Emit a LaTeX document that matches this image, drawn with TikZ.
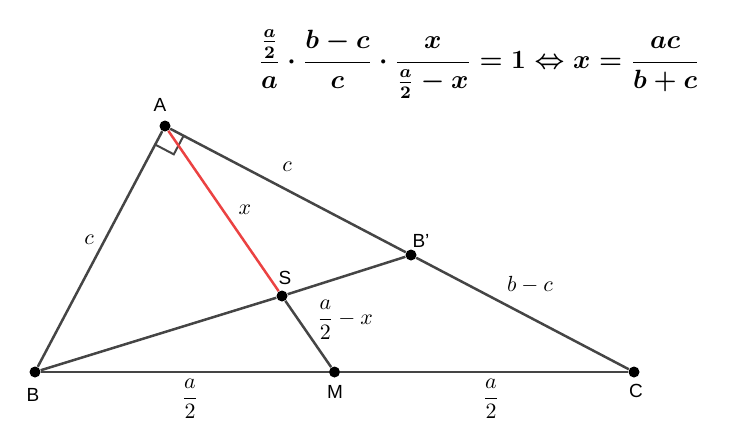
\documentclass[tikz,border=0pt]{standalone}
\usepackage{amsmath}
\usepackage{graphicx}
\usepackage{fontspec}
\setsansfont{Liberation Sans}
\usetikzlibrary{calc}

\newcommand{\ratioeq}{\ensuremath{\displaystyle \frac{\frac{a}{2}}{a}\cdot\frac{b-c}{c}\cdot\frac{x}{\frac{a}{2}-x}=1\Leftrightarrow x=\frac{ac}{b+c}}}

\begin{document}
\begin{tikzpicture}[x=0.5pt,y=-0.5pt,
  pt/.style={circle,fill=black,inner sep=0pt,minimum size=5.5pt},
  side/.style={draw=black!73,line width=1.25pt},
  ptname/.style={font=\sffamily\fontsize{9.5}{11}\selectfont},
  len/.style={font=\fontsize{11}{13}\selectfont}]
  \useasboundingbox (0,0) rectangle (743,440);
  \node[pt] (A) at (165,126) {};
  \node[pt] (B) at (35,372) {};
  \node[pt] (C) at (634,372) {};
  \node[pt] (M) at (334.5,372) {};
  \node[pt] (Bp) at (411,255) {};
  \node[pt] (S) at (282,296) {};
  \node[ptname] (nA) at (160,105) {A};
  \node[ptname] (nB) at (33,395) {B};
  \node[ptname] (nC) at (636,391) {C};
  \node[ptname] (nM) at (335,392) {M};
  \node[ptname] (nBp) at (421,241) {B'};
  \node[ptname] (nS) at (285,278) {S};
  % the sides
  \draw[side] (B) -- (M);
  \draw[side] (M) -- (C);
  \draw[side] (A) -- (B);
  \draw[side] (A) -- (Bp);
  \draw[side] (Bp) -- (C);
  \draw[side] (B) -- (S);
  \draw[side] (S) -- (Bp);
  \draw[side] (S) -- (M);
  % right angle at A
  \coordinate (rB) at ($(A)!10.5pt!(B)$);
  \coordinate (rC) at ($(A)!10.5pt!(C)$);
  \draw[side,line width=1pt] (rB) -- ($(rB)+(rC)-(A)$) -- (rC);
  \draw[line width=1.25pt,red!72!white!92!black] (A) -- (S);
  % lengths
  \node[len] (lc1) at (287,167) {$c$};
  \node[len] (lc2) at (89,240) {$c$};
  \node[len] (lx) at (245,210) {$x$};
  \node[len] (lbc) at (530,285) {$b-c$};
  \node[len] (lax) at (345,320) {$\dfrac{a}{2}-x$};
  \node[len] (lBM) at (190,399) {$\dfrac{a}{2}$};
  \node[len] (lMC) at (491,399) {$\dfrac{a}{2}$};
  \node[font=\fontsize{12}{14}\selectfont\boldmath] (eq) at (479,64) {\scalebox{1.1}{\ratioeq}};
\end{tikzpicture}
\end{document}
